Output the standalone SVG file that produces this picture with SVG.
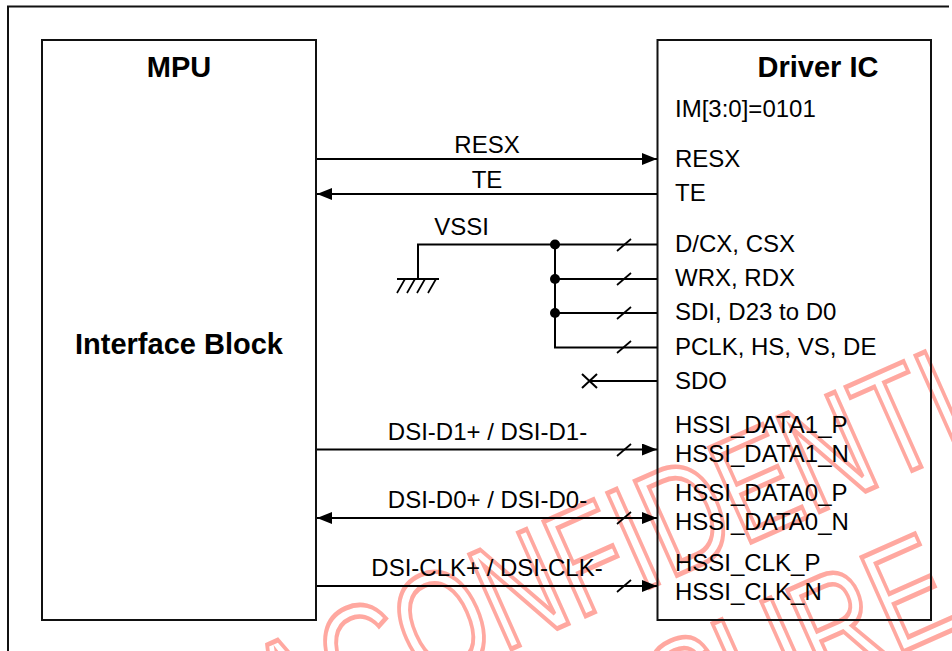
<svg xmlns="http://www.w3.org/2000/svg" width="952" height="651" viewBox="0 0 952 651">
<style>
text{font-family:"Liberation Sans",Arial,sans-serif;font-size:24px;fill:#000}
.b{font-weight:bold;font-size:29px}
.m{text-anchor:middle}
.box{fill:none;stroke:#111;stroke-width:2}
.w{fill:none;stroke:#000;stroke-width:2}
.s{stroke-width:1.700}
.wm{font-size:150px;font-kerning:none;fill:none;stroke:#ffa8a0;stroke-width:4.800}
</style>
<defs>
<marker id="a" markerUnits="userSpaceOnUse" markerWidth="16" markerHeight="12" refX="15" refY="6" orient="auto-start-reverse"><path d="M0 0L15 6L0 12Z" fill="#000"/></marker>
<path id="t" d="M-7 6L7 -6" class="w s"/>
</defs>
<rect width="952" height="651" fill="#fff"/>
<g id="watermark">
<text class="wm" transform="translate(280 752) rotate(-24) scale(.75 1)">ACONFIDENTI</text>
<text class="wm" transform="translate(678 752) rotate(-24) scale(.75 1)">SURE</text>
</g>
<g id="frame"><path class="box" d="M8 651V6.500H949"/></g>
<g id="mpu"><rect class="box" x="42" y="40" width="274" height="580"/>
<text class="b m" x="179" y="77">MPU</text>
<text class="b m" x="179" y="354">Interface Block</text></g>
<g id="driver"><rect class="box" x="657.500" y="40" width="273.500" height="580"/>
<text class="b m" x="818" y="77">Driver IC</text>
<text x="675" y="117">IM[3:0]=0101</text>
<text x="675" y="167">RESX</text>
<text x="675" y="201">TE</text>
<text x="675" y="252">D/CX, CSX</text>
<text x="675" y="286">WRX, RDX</text>
<text x="675" y="320">SDI, D23 to D0</text>
<text x="675" y="355">PCLK, HS, VS, DE</text>
<text x="675" y="389">SDO</text>
<text x="675" y="433">HSSI_DATA1_P</text>
<text x="675" y="462">HSSI_DATA1_N</text>
<text x="675" y="501">HSSI_DATA0_P</text>
<text x="675" y="530">HSSI_DATA0_N</text>
<text x="675" y="571">HSSI_CLK_P</text>
<text x="675" y="600">HSSI_CLK_N</text></g>
<g id="connectors">
<path class="w" d="M317 159H657" marker-end="url(#a)"/>
<path class="w" d="M657 194H317" marker-end="url(#a)"/>
<path class="w" d="M657 244.500H418V279M397 279H439"/>
<path class="w s" d="M397 293L405 279M407 293L415 279M417 293L425 279M428 293L436 279"/>
<path class="w" d="M555 244.500V347.500H657M555 279H657M555 313H657"/>
<circle cx="555" cy="244.500" r="5"/><circle cx="555" cy="279" r="5"/><circle cx="555" cy="313" r="5"/>
<use href="#t" x="624" y="245"/><use href="#t" x="624" y="279"/><use href="#t" x="624" y="313"/><use href="#t" x="624" y="347"/>
<path class="w" d="M657 381H590M582 374L597 388M582 388L597 374"/>
<path class="w" d="M317 449.500H657" marker-end="url(#a)"/>
<path class="w" d="M317 518H657" marker-start="url(#a)" marker-end="url(#a)"/>
<path class="w" d="M317 586H657" marker-end="url(#a)"/>
<use href="#t" x="624" y="450"/><use href="#t" x="624" y="518"/><use href="#t" x="624" y="586"/>
<text class="m" x="487" y="153">RESX</text>
<text class="m" x="487" y="188">TE</text>
<text class="m" x="461.500" y="235">VSSI</text>
<text class="m" x="487.500" y="440">DSI-D1+ / DSI-D1-</text>
<text class="m" x="487.500" y="508">DSI-D0+ / DSI-D0-</text>
<text class="m" x="487" y="576">DSI-CLK+ / DSI-CLK-</text>
</g>
</svg>
